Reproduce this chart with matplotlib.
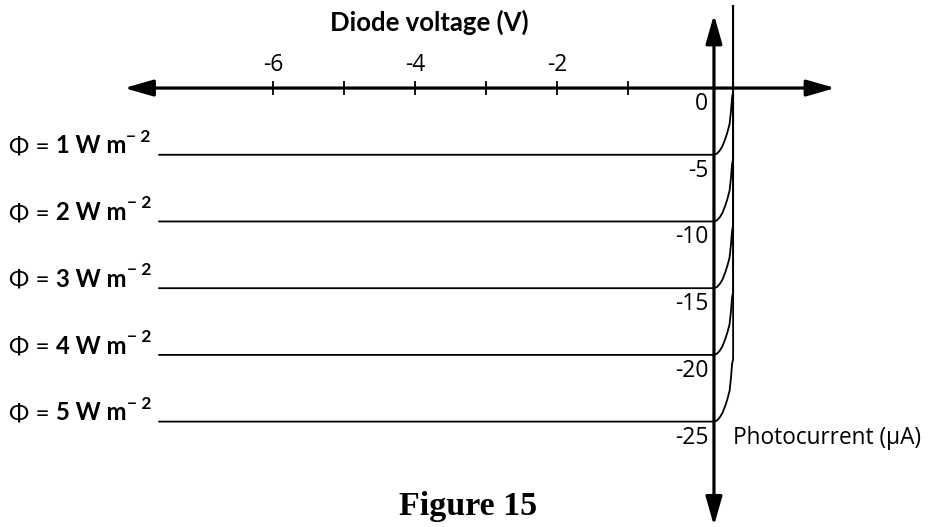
import matplotlib.pyplot as plt
import numpy as np

# irradiance levels and the matching photocurrents (uA)
flux = [1, 2, 3, 4, 5]
photocurrent = [-5, -10, -15, -20, -25]

# voltage ticks on the horizontal axis
v_ticks = [-6, -5, -4, -3, -2, -1]
v_labels = {-6: "-6", -4: "-4", -2: "-2"}
i_labels = [0, -5, -10, -15, -20, -25]

# knee of each curve (offset from the vertical axis)
knee_dv = [0.0, 0.04, 0.08, 0.12, 0.16, 0.19, 0.22, 0.24, 0.255, 0.27]
knee_di = [0.0, 0.08, 0.3, 0.65, 1.2, 1.7, 2.3, 3.3, 4.3, 4.7]

v_start = -7.62      # where the flat part starts
v_axis = 0.21        # the current axis crosses here
i_top = 6.2          # top of the steep forward branch

fig = plt.figure(figsize=(9.29, 5.27), dpi=100)
ax = fig.add_axes([0, 0, 1, 1])
ax.set_xlim(-9.85, 3.24)
ax.set_ylim(-32.9, 6.6)
ax.axis("off")

num_font = "Open Sans"
bold_font = "Lato"

# voltage axis (double arrow)
ax.annotate("", xy=(-8.1, 0), xytext=(1.92, 0),
            arrowprops=dict(arrowstyle="<|-|>,head_length=1.75,head_width=0.5",
                            mutation_scale=10, lw=2.3, color="black",
                            shrinkA=0, shrinkB=0))
# current axis (double arrow)
ax.annotate("", xy=(v_axis, 5.5), xytext=(v_axis, -32.8),
            arrowprops=dict(arrowstyle="<|-|>,head_length=1.75,head_width=0.5",
                            mutation_scale=10, lw=2.3, color="black",
                            shrinkA=0, shrinkB=0))

ax.plot(v_ticks, np.zeros(len(v_ticks)), "|", color="black", ms=9.5, mew=1.3)
for v, lab in v_labels.items():
    ax.text(v, 1.75, lab, ha="center", va="center", fontsize=16.5, family=num_font)

ax.text(-3.8, 4.95, "Diode voltage (V)", ha="center", va="center",
        fontsize=18.5, fontweight="bold", family=bold_font)

for i in i_labels:
    ax.text(v_axis - 0.08, i - 1.2, str(i), ha="right", va="center",
            fontsize=16.5, family=num_font)

ax.text(v_axis + 0.27, -26.25, "Photocurrent (\u00b5A)", ha="left", va="center",
        fontsize=16.3, family=num_font)

# one curve per irradiance level
for f, ip in zip(flux, photocurrent):
    vv = [v_start] + [v_axis + d for d in knee_dv] + [v_axis + knee_dv[-1]]
    ii = [ip] + [ip + d for d in knee_di] + [i_top]
    ax.plot(vv, ii, color="black", lw=1.3, solid_capstyle="butt")

    t = ax.text(-9.72, ip + 0.1, "\u03a6 = ", ha="left", va="baseline",
                fontsize=17.5, family=bold_font)
    t2 = ax.annotate(f"{f} W m", xy=(1, 0), xycoords=t, ha="left", va="bottom",
                     fontsize=17.2, fontweight="bold", family=bold_font)
    ax.annotate("\u2212 2", xy=(1, 0.55), xycoords=t2, ha="left", va="bottom",
                fontsize=12.5, fontweight="bold", family=bold_font)

ax.text(-3.25, -31.4, "Figure 15", ha="center", va="center",
        fontsize=24.5, fontweight="bold", family="Liberation Serif")

fig.savefig("out.png", dpi=100)
plt.close(fig)
